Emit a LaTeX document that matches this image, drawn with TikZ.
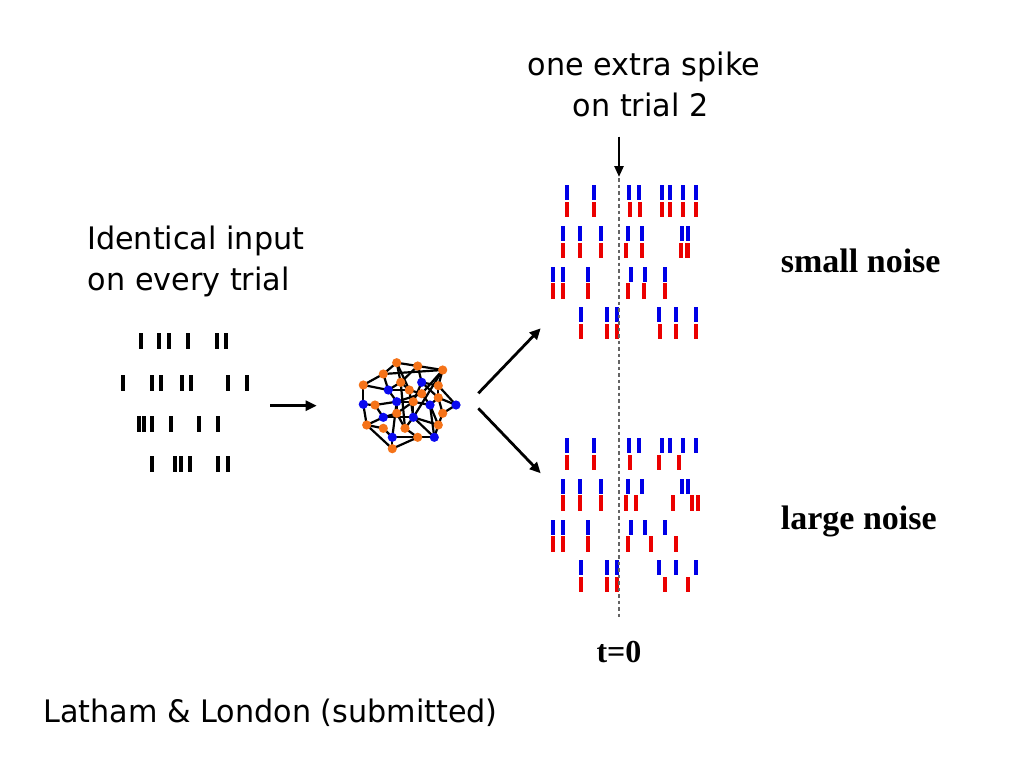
\documentclass[tikz,border=0pt]{standalone}
\usepackage{fontspec}
\setmainfont{Liberation Serif}
\newfontfamily\tahoma[FakeStretch=0.975]{DejaVu Sans}
\usetikzlibrary{arrows.meta}
\definecolor{spikeblue}{RGB}{0,0,230}
\definecolor{spikered}{RGB}{235,0,0}
\definecolor{netorange}{RGB}{245,115,25}
\definecolor{netblue}{RGB}{10,10,240}
\definecolor{dashgray}{RGB}{100,100,100}
\pgfdeclarelayer{bg}
\pgfsetlayers{bg,main}
\newcommand{\bluebars}[2]{\foreach \xx in {#2} {\fill[spikeblue] ({\xx-2.1},#1) rectangle ({\xx+2.1},{#1+15});}}
\newcommand{\redbars}[2]{\foreach \xx in {#2} {\fill[spikered] ({\xx-2.1},{#1+16.7}) rectangle ({\xx+2.1},{#1+32});}}
\newcommand{\blackbars}[2]{\foreach \xx in {#2} {\fill[black] ({\xx-2},#1) rectangle ({\xx+2},{#1+15.5});}}
\tikzset{
  txt/.style={inner sep=0pt, font=\tahoma\fontsize{31}{37}\selectfont},
  boldtxt/.style={inner sep=0pt, font=\bfseries\fontsize{34}{40}\selectfont},
  onode/.style={circle, fill=netorange, inner sep=0pt, minimum size=9.2pt},
  bnode/.style={circle, fill=netblue, inner sep=0pt, minimum size=9.2pt},
  netedge/.style={line width=2.2pt, black},
  bigarrow/.style={line width=2.8pt, -{Triangle[length=11pt,width=10pt]}},
  smallarrow/.style={line width=2.5pt, -{Triangle[length=11pt,width=9pt]}},
}
\begin{document}
\begin{tikzpicture}[x=1pt,y=-1pt]
\useasboundingbox (0,0) rectangle (1024,768);
\begin{pgfonlayer}{bg}
\fill[white] (0,0) rectangle (1024,768);
\end{pgfonlayer}

% texts
\node[txt, anchor=base west] (id1) at (87,249.3) {Identical input};
\node[txt, anchor=base west] (id2) at (87.6,290) {on every trial};
\node[txt, anchor=base] (ex1) at (644,75) {one extra spike};
\node[txt, anchor=base] (ex2) at (640.7,116) {on trial 2};
\node[boldtxt, anchor=base west] (sn) at (780.7,272.3) {small noise};
\node[boldtxt, anchor=base west] (ln) at (780.7,529.3) {large noise};
\node[boldtxt, font=\bfseries\fontsize{32}{38}\selectfont, anchor=base] (t0) at (619,662.3) {t=0};
\node[txt, anchor=base west] (ref) at (43,722.3) {Latham \& London (submitted)};

% input spike trains
\blackbars{333.3}{140.7,159.3,168.7,188.3,216.7,226}
\blackbars{375}{123.3,151.7,160.7,182.3,191,227.7,246.7}
\blackbars{416}{139.3,144.3,151.7,171,199.3,218.3}
\blackbars{456}{151.7,174.7,181.3,190,218.3,227.7}

% arrows
\coordinate (inR) at (270,405.7);
\coordinate (netL) at (316.7,405.7);
\draw[bigarrow] (inR) -- (netL);
\coordinate (netUR) at (478.3,393.3);
\coordinate (topR) at (540.7,328.3);
\coordinate (netDR) at (478.3,408.3);
\coordinate (botR) at (540.7,473.3);
\draw[bigarrow] (netUR) -- (topR);
\draw[bigarrow] (netDR) -- (botR);
\coordinate (extraTop) at (619,136.7);
\coordinate (extraEnd) at (619,177);
\draw[smallarrow] (extraTop) -- (extraEnd);

% network nodes
\node[onode] (o1) at (396.7,362.7) {};
\node[onode] (o2) at (417.7,366) {};
\node[onode] (o3) at (442.7,370) {};
\node[onode] (o4) at (383.3,374) {};
\node[onode] (o5) at (400.7,382.3) {};
\node[onode] (o6) at (363.3,385) {};
\node[onode] (o7) at (438.3,385.7) {};
\node[onode] (o8) at (409.3,390) {};
\node[onode] (o9) at (421.7,393.7) {};
\node[onode] (o10) at (438.3,397.7) {};
\node[onode] (o11) at (375,405) {};
\node[onode] (o12) at (413.3,401.7) {};
\node[onode] (o13) at (396.7,413.3) {};
\node[onode] (o14) at (442.7,413.3) {};
\node[onode] (o15) at (366.7,425) {};
\node[onode] (o16) at (383.3,428.3) {};
\node[onode] (o17) at (405,428.3) {};
\node[onode] (o18) at (438.3,425) {};
\node[onode] (o19) at (417.7,437.3) {};
\node[onode] (o20) at (392.3,448.7) {};
\node[bnode] (b1) at (421.7,382.3) {};
\node[bnode] (b2) at (388.3,390) {};
\node[bnode] (b3) at (363.3,404.3) {};
\node[bnode] (b4) at (396.7,401.7) {};
\node[bnode] (b5) at (430,405) {};
\node[bnode] (b6) at (456,405) {};
\node[bnode] (b7) at (383.3,417.3) {};
\node[bnode] (b8) at (413.3,417.3) {};
\node[bnode] (b9) at (392.3,437.3) {};
\node[bnode] (b10) at (434.3,437.3) {};

\begin{pgfonlayer}{bg}
\foreach \a/\b in {o1/o2,o2/o3,o1/o4,o4/o6,o1/o5,o1/o8,o2/o5,o2/b1,o3/o7,o3/o9,o3/b8,
  o4/b2,o4/o3,o6/b2,o6/b3,b2/o5,b2/b4,b2/o8,b3/o11,b3/o15,o11/b4,o11/b7,
  b4/o12,b4/o9,b4/o13,b4/b9,o5/o8,o8/o9,b1/o7,b1/o10,b1/o12,o7/o10,o7/b6,o10/b6,o10/o14,
  o10/b5,b6/o14,o9/b5,o12/b5,o12/o13,o12/b8,b5/o18,b5/b10,o13/b7,o13/o17,
  b7/o15,b7/b8,o15/o16,o15/o20,o16/b9,o17/b8,o17/o19,b8/b10,b8/o18,
  o18/b10,o18/o14,o19/b10,o19/o20,o19/b9,b9/o20,o5/o17,o8/b8}
  {\draw[netedge] (\a.center) -- (\b.center);}
\end{pgfonlayer}

% top raster (small noise)
\bluebars{185}{567.3,593.7,629,639.3,662.3,670,682.7,696.3}
\redbars{185}{567.3,593.7,630,640,662,670,683,696}
\bluebars{225.8}{563.3,580,600.7,628.3,642,682.2,687.8}
\redbars{225.8}{563.3,580,600.7,626,642.3,681.3,687.5}
\bluebars{266.6}{553.3,562.7,588,630.7,645,664.7}
\redbars{266.6}{553.3,562.7,588,628,644.3,665.3}
\bluebars{307.4}{581.3,607,616.7,659,675.7,695.7}
\redbars{307.4}{581.3,607,616.7,660.3,675.7,695.7}

% bottom raster (large noise)
\bluebars{438.3}{567.3,593.7,629,639.3,662.3,670,682.7,696.3}
\redbars{438.3}{567.3,593.7,630,659,679.3}
\bluebars{478.6}{563.3,580,600.7,628.3,642,682.2,687.8}
\redbars{478.6}{563.3,580,600.7,626,636,672.7,692.3,698.3}
\bluebars{519.6}{553.3,562.7,588,630.7,645,664.7}
\redbars{519.6}{553.3,562.7,588,628,651.3,676}
\bluebars{560.2}{581.3,607,616.7,659,675.7,695.7}
\redbars{560.2}{581.3,607,616.7,665,687.7}

% t=0 dashed line
\coordinate (dTop) at (619,178);
\coordinate (dBot) at (619,618);
\draw[dashgray, line width=1.8pt, dash pattern=on 3.5pt off 3pt] (dTop) -- (dBot);
\end{tikzpicture}
\end{document}
